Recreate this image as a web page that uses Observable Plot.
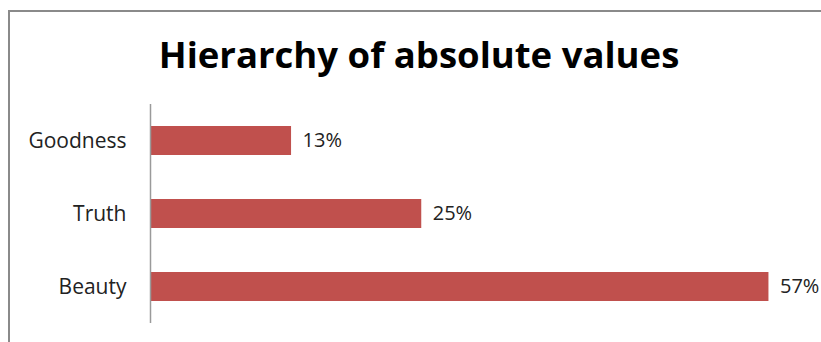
<!DOCTYPE html>
<html>
<head>
<meta charset="utf-8">
<script src="https://cdn.jsdelivr.net/npm/d3@7"></script>
<script src="https://cdn.jsdelivr.net/npm/@observablehq/plot@0.6"></script>
<style>
  html, body { margin: 0; padding: 0; background: #fff; }
  #wrap { position: relative; width: 821px; height: 342px; overflow: hidden; font-family: "Open Sans", sans-serif; }
  #frame { position: absolute; left: 8px; top: 10px; width: 830px; height: 340px; border-top: 2px solid #8a8a8a; border-left: 2px solid #8a8a8a; box-sizing: border-box; }
  #title { position: absolute; left: 0; top: 29px; width: 838px; text-align: center; font-size: 36.5px; font-weight: bold; color: #000; font-family: "Open Sans", sans-serif; }
  #chart { position: absolute; left: 0; top: 0; }
</style>
</head>
<body>
<div id="wrap">
  <div id="frame"></div>
  <div id="chart"></div>
  <div id="title">Hierarchy of absolute values</div>
</div>
<script>
const categories = ["Goodness", "Truth", "Beauty"];
const values = [13, 25, 57];
const labels = ["13%", "25%", "57%"];

const data = categories.map((c, i) => ({category: c, value: values[i], label: labels[i]}));

const chart = Plot.plot({
  width: 821,
  height: 342,
  marginLeft: 150,
  marginRight: 20,
  marginTop: 104,
  marginBottom: 19,
  style: {fontFamily: "'Open Sans', sans-serif", fontSize: "21px", color: "#222", background: "transparent"},
  x: {domain: [0, 60], axis: null},
  y: {domain: categories, paddingInner: 0.6, paddingOuter: 0.3, label: null, tickSize: 0, tickPadding: 24},
  marks: [
    Plot.barX(data, {y: "category", x: "value", fill: "#C0504D"}),
    Plot.ruleX([0], {stroke: "#9a9a9a", strokeWidth: 1.5}),
    Plot.text(data, {y: "category", x: "value", text: "label", textAnchor: "start", dx: 11, fontSize: 20, fill: "#222"})
  ]
});
document.getElementById("chart").appendChild(chart);
</script>
</body>
</html>
